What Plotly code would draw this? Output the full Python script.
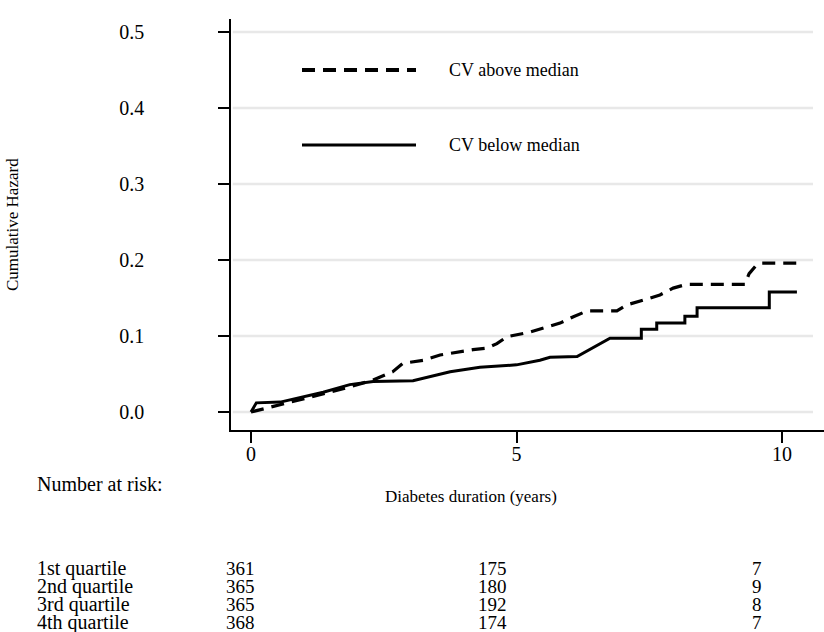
import plotly.graph_objects as go

# ---- data ----
above_t = [0, 0.41, 0.92, 1.43, 1.86, 2.3, 2.67, 2.86, 3.24, 3.56, 4.18, 4.44, 4.63, 4.82,
           5.25, 5.57, 5.82, 6.06, 6.33, 6.89, 7.08, 7.38, 7.7, 7.95, 8.2, 9.3, 9.38, 9.5, 9.6, 10.28]
above_h = [0, 0.007, 0.016, 0.025, 0.033, 0.042, 0.053, 0.064, 0.068, 0.075, 0.082, 0.084, 0.09, 0.099,
           0.105, 0.112, 0.117, 0.125, 0.133, 0.133, 0.141, 0.147, 0.154, 0.163, 0.168, 0.168, 0.182, 0.192, 0.196, 0.196]

below_t = [0, 0.1, 0.55, 1.36, 1.86, 2.3, 3.05, 3.75, 4.31, 5.0, 5.44, 5.63, 6.14, 6.76,
           7.35, 7.35, 7.64, 7.64, 8.17, 8.17, 8.4, 8.4, 9.76, 9.76, 10.28]
below_h = [0, 0.012, 0.013, 0.026, 0.036, 0.04, 0.041, 0.053, 0.059, 0.062, 0.068, 0.072, 0.073, 0.097,
           0.097, 0.109, 0.109, 0.117, 0.117, 0.126, 0.126, 0.137, 0.137, 0.158, 0.158]

series_names = ["CV above median", "CV below median"]
y_ticks = [0.0, 0.1, 0.2, 0.3, 0.4, 0.5]
x_ticks = [0, 5, 10]

risk_groups = ["1st quartile", "2nd quartile", "3rd quartile", "4th quartile"]
risk_at_0 = [361, 365, 365, 368]
risk_at_5 = [175, 180, 192, 174]
risk_at_10 = [7, 9, 8, 7]

# ---- layout helpers (pixel -> paper) ----
W, H = 824, 632
L, R, T, B = 231, 0, 19, 202
PW, PH = W - L - R, H - T - B


def px(xp):
    return (xp - L) / PW


def py(yp):
    return (H - B - yp) / PH


FONT = "Liberation Serif, Times New Roman, serif"

fig = go.Figure()
fig.add_trace(go.Scatter(x=above_t, y=above_h, mode="lines", name=series_names[0],
                         line=dict(color="black", width=3.2, dash="13px,8px"),
                         showlegend=False))
fig.add_trace(go.Scatter(x=below_t, y=below_h, mode="lines", name=series_names[1],
                         line=dict(color="black", width=3), showlegend=False))

shapes = []
for v in y_ticks:
    shapes.append(dict(type="line", xref="paper", yref="y", x0=0.003, x1=px(813), y0=v, y1=v,
                       line=dict(color="#e8e8e8", width=2.5), layer="below"))
shapes.append(dict(type="line", xref="paper", yref="paper", x0=px(302), x1=px(416),
                   y0=py(70), y1=py(70), line=dict(color="black", width=4, dash="13px,8px")))
shapes.append(dict(type="line", xref="paper", yref="paper", x0=px(302), x1=px(416),
                   y0=py(145), y1=py(145), line=dict(color="black", width=3)))

ann = []
ann.append(dict(text=series_names[0], xref="paper", yref="paper", x=px(447), y=py(70),
                xanchor="left", yanchor="middle", showarrow=False, font=dict(size=18)))
ann.append(dict(text=series_names[1], xref="paper", yref="paper", x=px(447), y=py(145),
                xanchor="left", yanchor="middle", showarrow=False, font=dict(size=18)))
ann.append(dict(text="Number at risk:", xref="paper", yref="paper", x=px(35), y=py(484),
                xanchor="left", yanchor="middle", showarrow=False, font=dict(size=20)))
ann.append(dict(text="Diabetes duration (years)", xref="paper", yref="paper", x=px(471), y=py(496),
                xanchor="center", yanchor="middle", showarrow=False, font=dict(size=17)))
ann.append(dict(text="Cumulative Hazard", xref="paper", yref="paper", x=px(12), y=py(225),
                xanchor="center", yanchor="middle", textangle=-90, showarrow=False,
                font=dict(size=17)))

row_y = [568, 586, 604, 622]
for i, g in enumerate(risk_groups):
    ann.append(dict(text=g, xref="paper", yref="paper", x=px(35), y=py(row_y[i]),
                    xanchor="left", yanchor="middle", showarrow=False, font=dict(size=20)))
    for xc, vals in zip([240, 492, 757], [risk_at_0, risk_at_5, risk_at_10]):
        ann.append(dict(text=str(vals[i]), xref="paper", yref="paper", x=px(xc), y=py(row_y[i]),
                        xanchor="center", yanchor="middle", showarrow=False, font=dict(size=19)))

fig.update_layout(
    width=W, height=H,
    margin=dict(l=L, r=R, t=T, b=B, pad=0),
    paper_bgcolor="white", plot_bgcolor="white",
    font=dict(family=FONT, color="black", size=19),
    shapes=shapes, annotations=ann,
    xaxis=dict(range=[-0.377, 10.79], tickvals=x_ticks, ticks="outside", ticklen=11,
               tickwidth=1.5, tickcolor="black", showline=True, linecolor="black", linewidth=1.5,
               showgrid=False, zeroline=False, tickfont=dict(size=20), ticklabelstandoff=-6),
    yaxis=dict(range=[-0.0237, 0.5171], tickvals=y_ticks, tickformat=".1f", ticks="outside",
               ticklen=11, tickwidth=1.5, tickcolor="black", showline=True, linecolor="black",
               linewidth=1.5, showgrid=False, zeroline=False, tickfont=dict(size=20),
               ticklabelstandoff=70),
)

fig.write_html("out.html")
